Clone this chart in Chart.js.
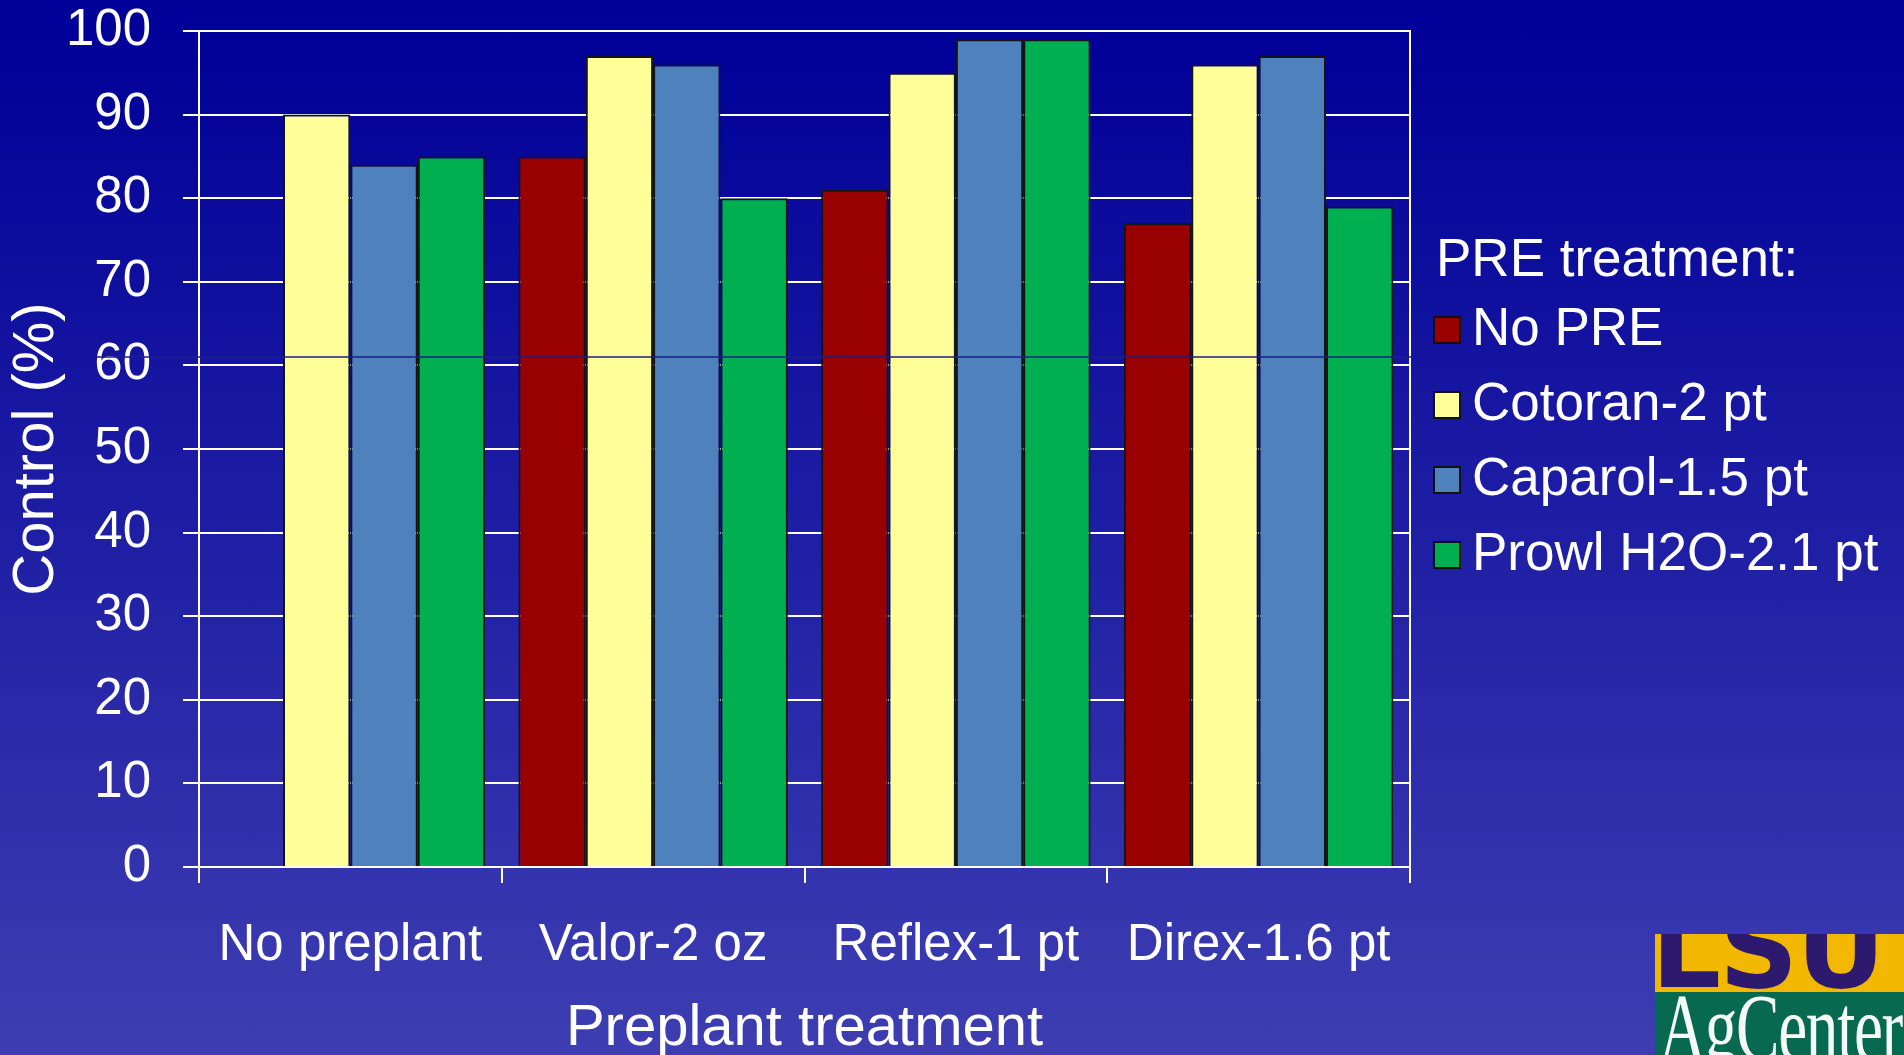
<!DOCTYPE html>
<html>
<head>
<meta charset="utf-8">
<script src="https://cdn.jsdelivr.net/npm/chart.js"></script>
<style>
    html, body { margin: 0; padding: 0; width: 1904px; height: 1055px; overflow: hidden; }
    body { background: linear-gradient(to bottom, #000099 0%, #030399 8%, #3e3eb2 100%); position: relative; }
    #chart { position: absolute; left: 0; top: 0; }
    .logo { position: absolute; left: 1655px; top: 934px; width: 249px; height: 121px; overflow: hidden; }
    .logo .lsu { height: 58px; background: #f2b800; overflow: hidden; position: relative; }
    .logo .lsu span { position: absolute; left: -4px; top: -40px; font: 900 110px "DejaVu Sans", sans-serif; color: #2d1a6e; letter-spacing: -2px; line-height: 1; }
    .logo .ag { height: 63px; background: #07694f; overflow: hidden; position: relative; }
    .logo .ag span { position: absolute; left: 4px; top: -12px; font: 96px "Liberation Serif", serif; color: #f4fbf6; line-height: 1; transform: scaleX(0.68); transform-origin: left top; letter-spacing: -2px; }
</style>
</head>
<body>
<canvas id="chart" width="1904" height="1055"></canvas>
<div class="logo">
    <div class="lsu"><span>LSU</span></div>
    <div class="ag"><span>AgCenter</span></div>
</div>

<script>
    const categories = ['No preplant', 'Valor-2 oz', 'Reflex-1 pt', 'Direx-1.6 pt'];
    const seriesNames = ['No PRE', 'Cotoran-2 pt', 'Caparol-1.5 pt', 'Prowl H2O-2.1 pt'];
    const seriesColors = ['#990000', '#FFFF99', '#4F81BD', '#00B050'];
    const noPre = [null, 85, 81, 77];
    const cotoran = [90, 97, 95, 96];
    const caparol = [84, 96, 99, 97];
    const prowl = [85, 80, 99, 79];
    const yMin = 0, yMax = 100, yStep = 10;
    const legendTitle = 'PRE treatment:';
    const stray = 61; // thin dark line across the plot in the original slide

    const font = '"Liberation Sans", Arial, sans-serif';

    // legend drawn on the canvas, right of the plot
    const legendPlugin = {
        id: 'preLegend',
        afterDraw(chart) {
            const ctx = chart.ctx;
            ctx.save();
            ctx.font = '53px ' + font;
            ctx.textBaseline = 'middle';
            ctx.fillStyle = '#fff';
            ctx.fillText(legendTitle, 1436, 261);
            chart.data.datasets.forEach((ds, i) => {
                const cy = 330 + i * 75;
                ctx.fillStyle = ds.backgroundColor;
                ctx.fillRect(1434, cy - 13, 26, 26);
                ctx.strokeStyle = '#111';
                ctx.lineWidth = 2;
                ctx.strokeRect(1434, cy - 13, 26, 26);
                ctx.fillStyle = '#fff';
                ctx.fillText(ds.label, 1472, cy);
            });
            ctx.restore();
        }
    };

    const strayLine = {
        id: 'strayLine',
        afterDatasetsDraw(chart) {
            const ctx = chart.ctx;
            const y = chart.scales.y.getPixelForValue(stray);
            ctx.save();
            ctx.strokeStyle = '#1c1c8e';
            ctx.lineWidth = 1.5;
            ctx.beginPath();
            ctx.moveTo(97, y);
            ctx.lineTo(chart.chartArea.right + 3, y);
            ctx.stroke();
            ctx.restore();
        }
    };

    const noPad = (axis) => {
        axis.paddingTop = 0;
        axis.paddingBottom = 0;
        axis.paddingLeft = 0;
        axis.paddingRight = 0;
    };

    const seriesData = [noPre, cotoran, caparol, prowl];

    new Chart(document.getElementById('chart'), {
        type: 'bar',
        data: {
            labels: categories,
            datasets: seriesData.map((d, i) => ({
                label: seriesNames[i],
                data: d,
                backgroundColor: seriesColors[i],
                borderColor: '#151515',
                borderWidth: 2,
                borderSkipped: 'bottom',
                categoryPercentage: 0.89,
                barPercentage: 1.0
            }))
        },
        options: {
            responsive: false,
            animation: false,
            layout: { padding: { left: 0, top: 31, right: 494, bottom: 0 } },
            plugins: {
                legend: { display: false },
                tooltip: { enabled: false }
            },
            scales: {
                x: {
                    grid: { display: true, offset: true, drawOnChartArea: false, drawTicks: true, tickLength: 16, color: '#fff', lineWidth: 2 },
                    border: { display: true, color: '#fff', width: 2 },
                    ticks: { color: '#fff', font: { family: font, size: 51 }, padding: 32, maxRotation: 0 },
                    title: { display: true, text: 'Preplant treatment', color: '#fff', font: { family: font, size: 58, lineHeight: 0.9 }, padding: { top: 0, bottom: 0 } },
                    afterFit(axis) { axis.height = 188; noPad(axis); }
                },
                y: {
                    min: yMin,
                    max: yMax,
                    ticks: { stepSize: yStep, color: '#fff', font: { family: font, size: 51 }, padding: 32 },
                    grid: { color: '#fff', lineWidth: 2, tickLength: 16 },
                    border: { display: true, color: '#fff', width: 2 },
                    title: { display: true, text: 'Control (%)', color: '#fff', font: { family: font, size: 58 }, padding: { top: 2, bottom: 0 } },
                    afterFit(axis) { axis.width = 199; noPad(axis); }
                },
                y2: {
                    position: 'right',
                    min: yMin,
                    max: yMax,
                    grid: { display: false },
                    ticks: { display: false },
                    border: { display: true, color: '#fff', width: 2 },
                    afterFit(axis) { axis.width = 0; noPad(axis); }
                }
            }
        },
        plugins: [strayLine, legendPlugin]
    });
</script>
</body>
</html>
